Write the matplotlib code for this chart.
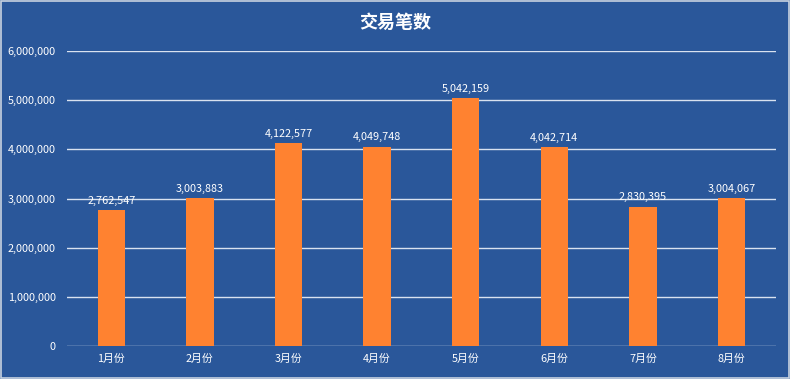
import matplotlib.pyplot as plt
import matplotlib.patches as patches
from matplotlib.ticker import FuncFormatter

plt.rcParams['font.family'] = ['Noto Sans CJK SC', 'DejaVu Sans']

# 数据
months = ['1月份', '2月份', '3月份', '4月份', '5月份', '6月份', '7月份', '8月份']
counts = [2762547, 3003883, 4122577, 4049748, 5042159, 4042714, 2830395, 3004067]

bg = '#2A579A'
bar_color = '#FF8230'
grid_color = '#D9E2F0'

fig = plt.figure(figsize=(7.9, 3.79), dpi=100, facecolor=bg)
ax = fig.add_axes([0.0848, 0.0871, 0.8972, 0.7783])
ax.set_facecolor(bg)

x = range(len(months))
bars = ax.bar(x, counts, width=0.31, color=bar_color, zorder=3)

for xi, v in zip(x, counts):
    ax.text(xi, v + 90000, f'{v:,}', ha='center', va='bottom',
            color='white', fontsize=7.8, zorder=4)

ax.set_xlim(-0.5, len(months) - 0.5)
ax.set_ylim(0, 6000000)
ax.set_yticks(range(0, 6000001, 1000000))
ax.yaxis.set_major_formatter(FuncFormatter(lambda v, p: f'{int(v):,}'))
ax.set_xticks(list(x))
ax.set_xticklabels(months)

ax.grid(axis='y', color=grid_color, linewidth=1, zorder=0)
ax.tick_params(axis='both', length=0, colors='white', labelsize=7.8)
ax.tick_params(axis='y', pad=8)
ax.tick_params(axis='x', pad=6)
for s in ax.spines.values():
    s.set_visible(False)

fig.text(0.5, 0.94, '交易笔数', ha='center', va='center', color='white',
         fontsize=13, fontweight='bold')

# 外边框
fig.patches.append(patches.Rectangle((0.001, 0.002), 0.998, 0.996, transform=fig.transFigure,
                                     fill=False, edgecolor='#C8D2E0', linewidth=1.2))

fig.savefig('out.png', dpi=100, facecolor=bg)
